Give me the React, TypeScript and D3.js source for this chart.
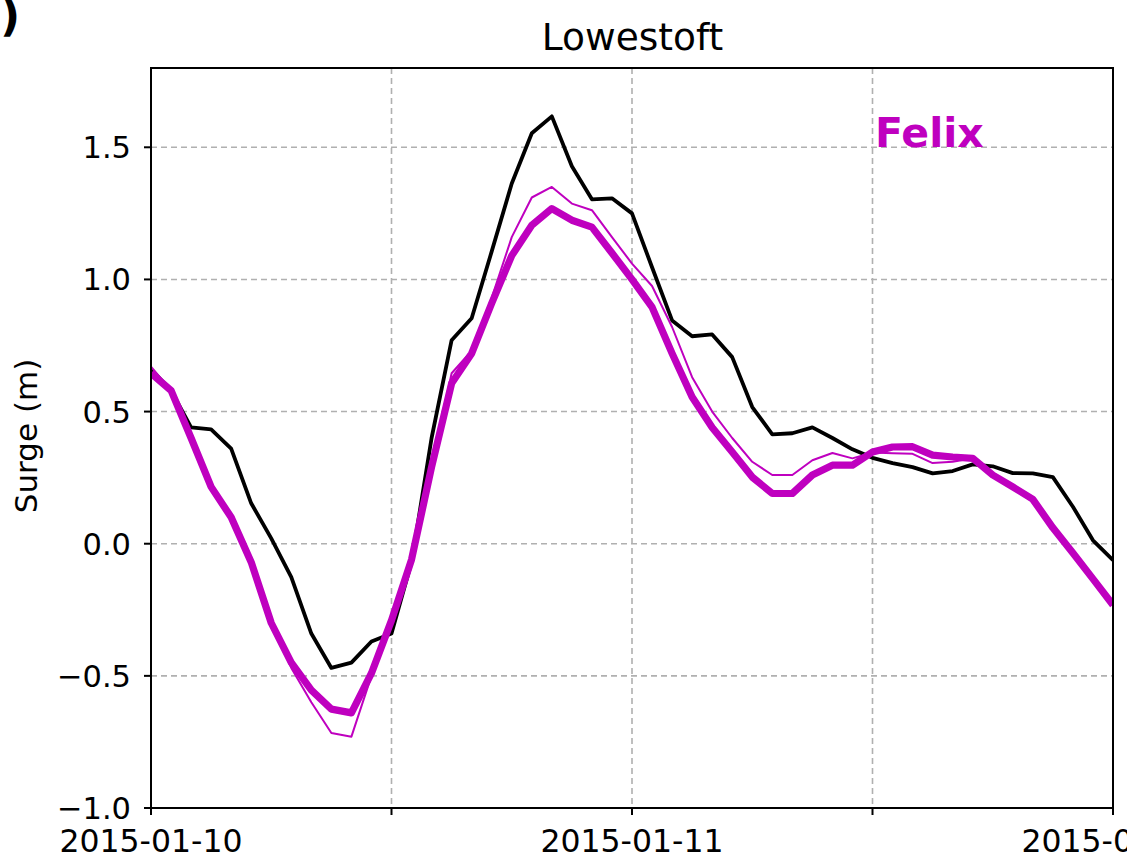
import React from "react";
import * as d3 from "d3";

// hourly values from 2015-01-10 00:00 to 2015-01-12 00:00
const hours: number[] = Array.from({ length: 49 }, (_, i) => i);

const observed: number[] = [
  0.66, 0.58, 0.44, 0.433, 0.36, 0.153, 0.02, -0.126, -0.34, -0.47, -0.45, -0.37, -0.34,
  -0.07, 0.40, 0.77, 0.853, 1.106, 1.363, 1.553, 1.617, 1.428, 1.303, 1.307, 1.25,
  1.046, 0.845, 0.785, 0.792, 0.706, 0.517, 0.414, 0.418, 0.44, 0.40, 0.357, 0.325,
  0.305, 0.29, 0.266, 0.275, 0.30, 0.293, 0.267, 0.266, 0.252, 0.14, 0.013, -0.062,
];

const modelThin: number[] = [
  0.67, 0.58, 0.40, 0.215, 0.10, -0.07, -0.30, -0.47, -0.60, -0.716, -0.73, -0.50, -0.30,
  -0.06, 0.30, 0.645, 0.73, 0.93, 1.16, 1.31, 1.35, 1.287, 1.262, 1.16, 1.06,
  0.975, 0.82, 0.63, 0.50, 0.40, 0.31, 0.26, 0.26, 0.316, 0.343, 0.323, 0.345,
  0.342, 0.34, 0.305, 0.31, 0.323, 0.26, 0.215, 0.168, 0.06, -0.035, -0.133, -0.232,
];

const modelThick: number[] = [
  0.645, 0.58, 0.40, 0.215, 0.10, -0.07, -0.30, -0.45, -0.554, -0.626, -0.64, -0.49, -0.29,
  -0.06, 0.29, 0.607, 0.72, 0.91, 1.09, 1.205, 1.268, 1.224, 1.198, 1.10, 1.0,
  0.895, 0.72, 0.555, 0.44, 0.347, 0.252, 0.19, 0.19, 0.26, 0.297, 0.297, 0.347,
  0.366, 0.367, 0.335, 0.328, 0.323, 0.26, 0.215, 0.168, 0.06, -0.035, -0.133, -0.232,
];

const yTicks: number[] = [-1.0, -0.5, 0.0, 0.5, 1.0, 1.5];
const xGridHours: number[] = [12, 24, 36];
const xTickHours: number[] = [0, 12, 24, 36, 48];
const xLabels: { h: number; label: string }[] = [
  { h: 0, label: "2015-01-10" },
  { h: 24, label: "2015-01-11" },
  { h: 48, label: "2015-01-12" },
];

const W = 1127;
const H = 859;
const M = { left: 151, right: 1113, top: 68, bottom: 808 };
const MAG = "#bf00bf";
const FONT = "DejaVu Sans, sans-serif";

export default function App() {
  const x = d3.scaleLinear().domain([0, 48]).range([M.left, M.right]);
  const y = d3.scaleLinear().domain([-1.0, 1.8]).range([M.bottom, M.top]);

  const line = (vals: number[]) =>
    d3
      .line<number>()
      .x((_, i) => x(hours[i]))
      .y((v) => y(v))(vals) || "";

  const fmt = (v: number) => (v < 0 ? "\u2212" : "") + Math.abs(v).toFixed(1);

  return (
    <svg
      width={W}
      height={H}
      style={{ position: "absolute", left: 0, top: 0, background: "#fff" }}
      fontFamily={FONT}
    >
      <rect x={0} y={0} width={W} height={H} fill="#fff" />
      <defs>
        <clipPath id="plotclip">
          <rect x={M.left} y={M.top} width={M.right - M.left} height={M.bottom - M.top} />
        </clipPath>
      </defs>

      {/* grid */}
      {yTicks
        .filter((t) => t > -1)
        .map((t) => (
          <line
            key={"gy" + t}
            x1={M.left}
            x2={M.right}
            y1={y(t)}
            y2={y(t)}
            stroke="#b0b0b0"
            strokeWidth={1.6}
            strokeDasharray="6,4"
          />
        ))}
      {xGridHours.map((h) => (
        <line
          key={"gx" + h}
          x1={x(h)}
          x2={x(h)}
          y1={M.top}
          y2={M.bottom}
          stroke="#b0b0b0"
          strokeWidth={1.6}
          strokeDasharray="6,4"
        />
      ))}

      {/* series */}
      <g clipPath="url(#plotclip)" fill="none" strokeLinejoin="round" strokeLinecap="butt">
        <path d={line(observed)} stroke="#000" strokeWidth={3.8} />
        <path d={line(modelThin)} stroke={MAG} strokeWidth={2} />
        <path d={line(modelThick)} stroke={MAG} strokeWidth={7.2} />
      </g>

      {/* spines */}
      <rect
        x={M.left}
        y={M.top}
        width={M.right - M.left}
        height={M.bottom - M.top}
        fill="none"
        stroke="#000"
        strokeWidth={2}
      />

      {/* y ticks */}
      {yTicks.map((t) => (
        <g key={"yt" + t}>
          <line x1={M.left - 7} x2={M.left} y1={y(t)} y2={y(t)} stroke="#000" strokeWidth={2} />
          <text x={M.left - 20} y={y(t) + 11} textAnchor="end" fontSize={30.5} fill="#000">
            {fmt(t)}
          </text>
        </g>
      ))}

      {/* x ticks */}
      {xTickHours.map((h) => (
        <line
          key={"xt" + h}
          x1={x(h)}
          x2={x(h)}
          y1={M.bottom}
          y2={M.bottom + 7}
          stroke="#000"
          strokeWidth={2}
        />
      ))}
      {xLabels.map((d) => (
        <text key={d.label} x={x(d.h)} y={852} textAnchor="middle" fontSize={31.5} fill="#000">
          {d.label}
        </text>
      ))}

      {/* y label */}
      <text
        transform={`translate(37, 436) rotate(-90)`}
        textAnchor="middle"
        fontSize={31}
        fill="#000"
      >
        Surge (m)
      </text>

      {/* title */}
      <text x={632.5} y={50} textAnchor="middle" fontSize={37.5} fill="#000">
        Lowestoft
      </text>

      {/* annotation */}
      <text x={875} y={147} fontSize={41} fontWeight="bold" fill={MAG}>
        Felix
      </text>

      {/* clipped panel label */}
      <text x={0} y={31} fontSize={44} fontWeight="bold" fill="#000">
        )
      </text>
    </svg>
  );
}
